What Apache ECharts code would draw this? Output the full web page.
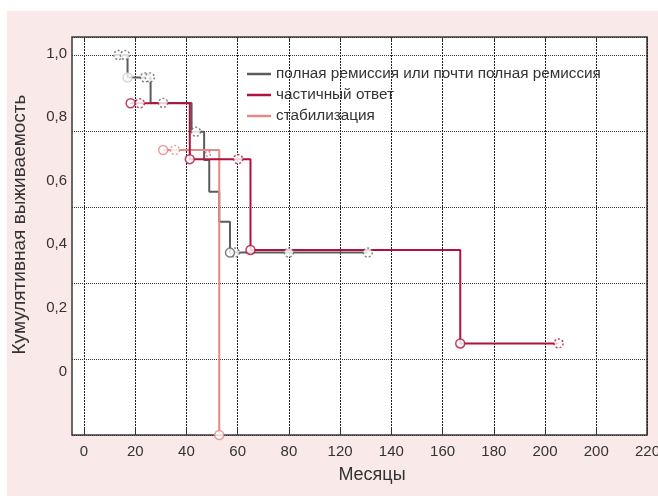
<!DOCTYPE html>
<html>
<head>
<meta charset="utf-8">
<script src="https://cdn.jsdelivr.net/npm/echarts@6/dist/echarts.min.js"></script>
<style>
  html, body { margin: 0; padding: 0; background: #ffffff; }
  #wrap { position: relative; width: 658px; height: 496px; overflow: hidden; }
  #bg { position: absolute; left: 7px; top: 11px; right: 0; bottom: 0; background: #f9e9e9; }
  #chart { position: absolute; left: 0; top: 0; width: 658px; height: 496px; }
</style>
</head>
<body>
<div id="wrap"><div id="bg"></div><div id="chart"></div></div>
<script>
// ---- data (months, cumulative survival) ----
const xTickLabels = ['0', '20', '40', '60', '80', '120', '140', '160', '180', '200', '200', '220'];
const yTickLabels = ['0', '0,2', '0,4', '0,6', '0,8', '1,0'];
const seriesNames = ['полная ремиссия или почти полная ремиссия', 'частичный ответ', 'стабилизация'];

const grayCurve = [[12.0, 1.0], [17.0, 0.941], [26.0, 0.874], [42.0, 0.798], [46.9, 0.724], [48.9, 0.640], [52.8, 0.561], [57.0, 0.480], [110.8, 0.480]];
const grayEvents = [[57.0, 0.480]];
const grayFaintEvents = [[17.0, 0.941]];
const grayCensored = [[13.4, 1.0], [16.0, 1.0], [23.8, 0.941], [25.7, 0.941], [30.9, 0.874], [43.7, 0.798], [58.9, 0.480], [80.0, 0.480], [110.8, 0.480]];

const redCurve = [[18.2, 0.873], [41.3, 0.726], [65.0, 0.487], [146.9, 0.241], [185.3, 0.241]];
const redEvents = [[18.2, 0.873], [41.3, 0.726], [65.0, 0.487], [146.9, 0.241]];
const redCensored = [[21.8, 0.873], [60.2, 0.726], [185.3, 0.241]];
const redSmallCensored = [[48.4, 0.74]];

const pinkCurve = [[30.9, 0.75], [52.8, 0.0]];
const pinkEvents = [[30.9, 0.75], [52.8, 0.0]];
const pinkCensored = [[35.5, 0.75]];

// ---- styles ----
const GRAY = '#5c5c5c', RED = '#b3103d', PINK = '#e28a8a';
const FONT = 'Liberation Sans, Arial, sans-serif';
const TXT = '#333333';

function stepLine(name, data, color, z) {
  return { name: name, type: 'line', step: 'end', data: data, xAxisIndex: 1, yAxisIndex: 2,
    symbol: 'none', lineStyle: { color: color, width: 2 }, itemStyle: { color: color }, z: z, animation: false };
}
function marks(name, data, color, dashed, size, z) {
  return { name: name, type: 'scatter', data: data, xAxisIndex: 1, yAxisIndex: 2, clip: false,
    symbol: 'circle', symbolSize: size, z: z, animation: false,
    itemStyle: { color: '#ffffff', borderColor: color, borderWidth: 1.5, borderType: dashed ? [2, 2] : 'solid' } };
}

const chart = echarts.init(document.getElementById('chart'), null, { renderer: 'canvas' });
chart.setOption({
  backgroundColor: 'transparent',
  animation: false,
  textStyle: { fontFamily: FONT },
  grid: [
    { left: 72, top: 37, width: 575, height: 398, show: true, backgroundColor: '#ffffff', borderColor: '#3a3a3a', borderWidth: 1.5, z: 0, outerBoundsMode: 'none', containLabel: false },
    { left: 84, top: 37, width: 563.5, height: 398, show: false, outerBoundsMode: 'none', containLabel: false }
  ],
  xAxis: [
    { gridIndex: 0, type: 'value', min: 0, max: 1, show: false },
    { gridIndex: 1, type: 'value', min: 0, max: 220, interval: 20, position: 'bottom',
      axisLine: { show: false },
      axisTick: { show: true, inside: true, length: 7, lineStyle: { color: '#333', width: 1 } },
      axisLabel: { margin: 9, color: TXT, fontSize: 15, fontFamily: FONT, hideOverlap: false,
        formatter: function (v) { const i = Math.round(v / 20); return (Math.abs(v - i * 20) < 1e-6 && xTickLabels[i] !== undefined) ? xTickLabels[i] : ''; } },
      splitLine: { show: true, lineStyle: { color: '#222', width: 1, type: [2, 1] } } },
    { gridIndex: 1, type: 'value', min: 0, max: 220, interval: 20, position: 'top',
      axisLine: { show: false },
      axisTick: { show: true, inside: true, length: 4, lineStyle: { color: '#333', width: 1 } },
      axisLabel: { show: false }, splitLine: { show: false } }
  ],
  yAxis: [
    { gridIndex: 0, type: 'value', min: 0, max: 1.0474, interval: 0.2, position: 'left',
      axisLine: { show: false }, axisTick: { show: false }, axisLabel: { show: false },
      splitLine: { show: true, lineStyle: { color: '#333', width: 1, type: [1, 1] } } },
    { gridIndex: 0, type: 'value', min: -0.2, max: 1.0516, interval: 0.2, position: 'left',
      axisLine: { show: false }, axisTick: { show: false }, splitLine: { show: false },
      axisLabel: { margin: 5, color: TXT, fontSize: 15, fontFamily: FONT,
        formatter: function (v) { const i = Math.round(v / 0.2); return (Math.abs(v - i * 0.2) < 1e-6 && i >= 0 && yTickLabels[i] !== undefined) ? yTickLabels[i] : ''; } } },
    { gridIndex: 1, type: 'value', min: 0, max: 1.0474, interval: 0.2, show: false }
  ],
  legend: {
    orient: 'vertical', left: 247, top: 66, padding: 0, itemWidth: 24, itemHeight: 2.5, itemGap: 5,
    data: seriesNames.map(function (n) { return { name: n, icon: 'rect' }; }),
    textStyle: { color: TXT, fontSize: 15.3, fontFamily: FONT, lineHeight: 16 },
    selectedMode: false
  },
  graphic: [
    { type: 'text', x: 20, y: 224.5, rotation: Math.PI / 2, silent: true,
      style: { text: 'Кумулятивная выживаемость', font: '19px ' + FONT, fill: TXT, align: 'center', verticalAlign: 'middle' } },
    { type: 'text', x: 372, y: 475, silent: true,
      style: { text: 'Месяцы', font: '18px ' + FONT, fill: TXT, align: 'center', verticalAlign: 'middle' } }
  ],
  series: [
    stepLine(seriesNames[0], grayCurve, GRAY, 3),
    stepLine(seriesNames[2], pinkCurve, PINK, 4),
    stepLine(seriesNames[1], redCurve, RED, 5),
    marks('g-c', grayCensored, '#666666', true, 9, 6),
    marks('g-e', grayEvents, '#666666', false, 9, 6),
    marks('g-f', grayFaintEvents, '#cfcfcf', false, 9, 6),
    marks('p-c', pinkCensored, PINK, true, 9, 7),
    marks('p-e', pinkEvents, PINK, false, 9, 7),
    marks('r-c', redCensored, RED, true, 9, 8),
    marks('r-s', redSmallCensored, '#d0607a', true, 5, 8),
    marks('r-e', redEvents, RED, false, 9, 8)
  ]
});
</script>
</body>
</html>
